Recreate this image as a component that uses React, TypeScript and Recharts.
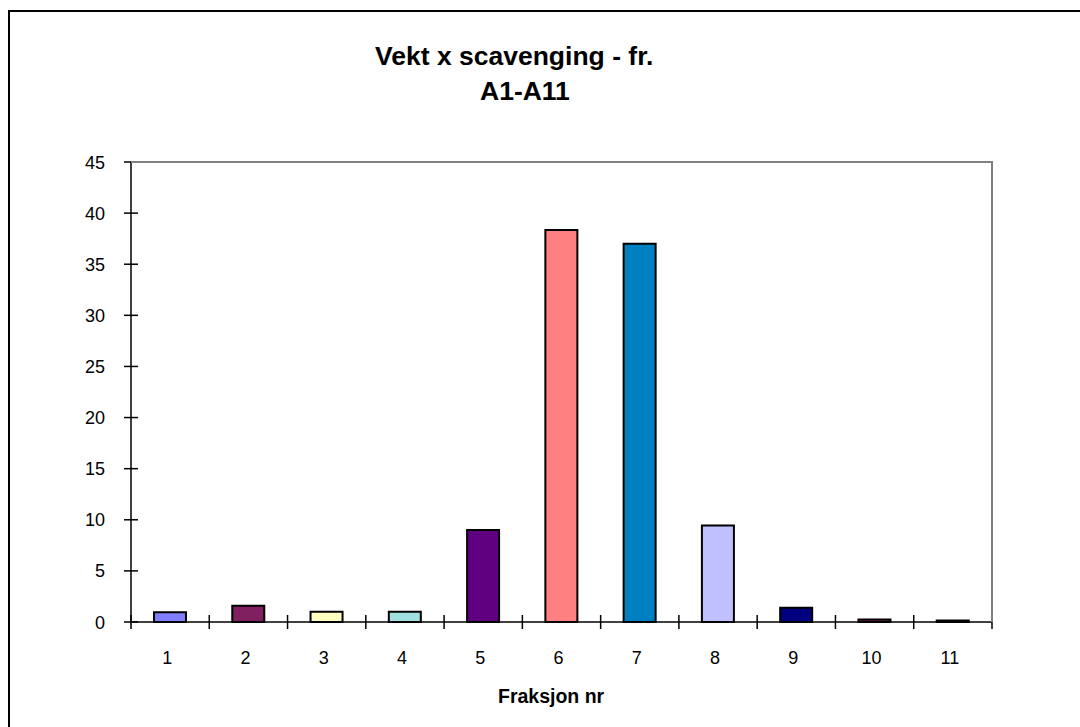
import { Bar, BarChart, Cell, XAxis, YAxis } from 'recharts';

const fractions = ['1', '2', '3', '4', '5', '6', '7', '8', '9', '10', '11'];
const weights = [0.95, 1.6, 1.0, 1.0, 9.0, 38.35, 37.0, 9.45, 1.4, 0.25, 0.15];
const barColors = [
  '#8080ff',
  '#802060',
  '#ffffc0',
  '#a0e0e0',
  '#600080',
  '#ff8080',
  '#0080c0',
  '#c0c0ff',
  '#000080',
  '#802060',
  '#000000',
];
const yTicks = [0, 5, 10, 15, 20, 25, 30, 35, 40, 45];

const W = 1080;
const H = 727;
const PLOT_LEFT = 131;
const PLOT_RIGHT = 992;
const PLOT_TOP = 162;
const PLOT_BOTTOM = 622;
const BAND = (PLOT_RIGHT - PLOT_LEFT) / fractions.length;
const FONT = 'Arial, "Liberation Sans", sans-serif';

const chartData = fractions.map((f, i) => ({ fraksjon: f, vekt: weights[i] }));

function XTick(props: any) {
  const { x, y, payload, index } = props;
  const left = x - BAND / 2;
  return (
    <g>
      <line x1={left} x2={left} y1={y - 7} y2={y + 7} stroke="#000" strokeWidth={1.5} />
      {index === fractions.length - 1 && (
        <line x1={x + BAND / 2} x2={x + BAND / 2} y1={y - 7} y2={y + 7} stroke="#000" strokeWidth={1.5} />
      )}
      <text x={x - 3} y={y + 42} textAnchor="middle" fontSize={18} fill="#000" fontFamily={FONT}>
        {payload.value}
      </text>
    </g>
  );
}

function YTick(props: any) {
  const { x, y, payload } = props;
  return (
    <g>
      <line x1={x - 7} x2={x + 7} y1={y} y2={y} stroke="#000" strokeWidth={1.5} />
      <text x={x - 26} y={y + 6.5} textAnchor="end" fontSize={18} fill="#000" fontFamily={FONT}>
        {payload.value}
      </text>
    </g>
  );
}

export default function App() {
  return (
    <div
      style={{
        position: 'absolute',
        left: 0,
        top: 0,
        width: W,
        height: H,
        overflow: 'hidden',
        background: '#fff',
        fontFamily: FONT,
      }}
    >
      <div
        style={{
          position: 'absolute',
          left: 8,
          top: 10,
          width: W + 40,
          height: H + 40,
          borderLeft: '2px solid #000',
          borderTop: '2px solid #000',
        }}
      />
      <div
        style={{
          position: 'absolute',
          left: 0,
          width: W,
          top: 39,
          fontSize: 26.5,
          fontWeight: 'bold',
          lineHeight: '34px',
          color: '#000',
        }}
      >
        <div style={{ position: 'absolute', left: 375, whiteSpace: 'nowrap' }}>Vekt x scavenging - fr.</div>
        <div style={{ position: 'absolute', left: 480, top: 35, whiteSpace: 'nowrap' }}>A1-A11</div>
      </div>
      <div
        style={{
          position: 'absolute',
          left: 0,
          width: W,
          top: 685,
          fontSize: 19.5,
          fontWeight: 'bold',
          color: '#000',
        }}
      >
        <div style={{ position: 'absolute', left: 498, whiteSpace: 'nowrap' }}>Fraksjon nr</div>
      </div>
      <div style={{ position: 'absolute', left: 0, top: 0 }}>
        <BarChart
          width={W}
          height={H}
          data={chartData}
          margin={{ top: PLOT_TOP, right: W - PLOT_RIGHT, bottom: H - PLOT_BOTTOM - 30, left: PLOT_LEFT - 60 }}
        >
          <XAxis
            dataKey="fraksjon"
            axisLine={{ stroke: '#000', strokeWidth: 1.5 }}
            tickLine={false}
            tickSize={0}
            tickMargin={0}
            tick={<XTick />}
            interval={0}
            height={30}
          />
          <YAxis
            domain={[0, 45]}
            ticks={yTicks}
            width={60}
            axisLine={{ stroke: '#000', strokeWidth: 1.5 }}
            tickLine={false}
            tickSize={0}
            tickMargin={0}
            tick={<YTick />}
            interval={0}
          />
          <Bar dataKey="vekt" barSize={32} stroke="#000" strokeWidth={2} isAnimationActive={false}>
            {chartData.map((d, i) => (
              <Cell key={d.fraksjon} fill={barColors[i]} />
            ))}
          </Bar>
        </BarChart>
      </div>
      {/* grey frame on the top and right of the plot area */}
      <svg width={W} height={H} style={{ position: 'absolute', left: 0, top: 0, pointerEvents: 'none' }}>
        <polyline
          points={`${PLOT_LEFT},${PLOT_TOP} ${PLOT_RIGHT},${PLOT_TOP} ${PLOT_RIGHT},${PLOT_BOTTOM}`}
          fill="none"
          stroke="#808080"
          strokeWidth={2}
        />
      </svg>
    </div>
  );
}
